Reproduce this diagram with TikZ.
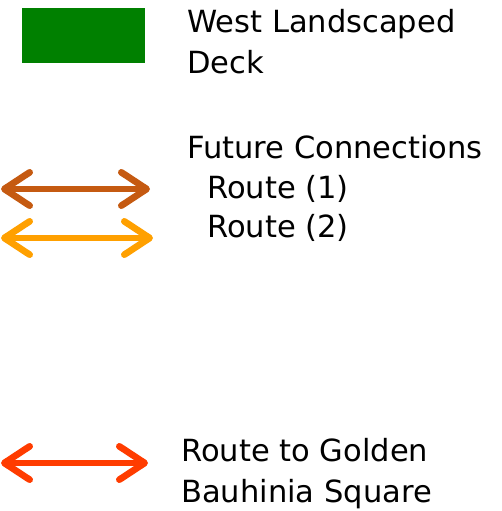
\documentclass[tikz,border=0pt]{standalone}
\usepackage{fontspec}
\setmainfont{DejaVu Sans}
\usetikzlibrary{arrows.meta}
\definecolor{deckgreen}{HTML}{008000}
\definecolor{routeone}{HTML}{C55A11}
\definecolor{routetwo}{HTML}{FFA000}
\definecolor{routegold}{HTML}{FF3C00}
\tikzset{
  legendtext/.style={anchor=base west, inner sep=0pt, font=\fontsize{22.9}{30}\selectfont},
  barb/.tip={Straight Barb[length=19pt, width=25pt, line cap=round, line join=round]},
  route/.style={line width=5pt, barb-barb}
}
\begin{document}
\begin{tikzpicture}[x=0.75pt, y=-0.75pt]
		%%%%% START %%%%%
		\useasboundingbox (0, 0) rectangle (502, 511);
		
		\draw[fill=deckgreen, draw=none] (22, 8) rectangle (145, 63);
		\node[legendtext] (deck1) at (187, 32) {West Landscaped};
		\node[legendtext] (deck2) at (187, 73) {Deck};
		
		\node[legendtext] (future) at (187, 158) {Future Connections};
		\node[legendtext] (route1) at (207, 198) {Route (1)};
		\node[legendtext] (route2) at (207, 237) {Route (2)};
		
		\coordinate (r1a) at (1, 189);
		\coordinate (r1b) at (150, 189);
		\draw[route, color=routeone] (r1a) -- (r1b);
		
		\coordinate (r2a) at (1, 238);
		\coordinate (r2b) at (153, 238);
		\draw[route, color=routetwo] (r2a) -- (r2b);
		
		\node[legendtext] (gold1) at (181, 461) {Route to Golden};
		\node[legendtext] (gold2) at (181, 502) {Bauhinia Square};
		
		\coordinate (r3a) at (1, 463);
		\coordinate (r3b) at (148, 463);
		\draw[route, color=routegold] (r3a) -- (r3b);
		%%%%% END %%%%%
	\end{tikzpicture}
\end{document}
